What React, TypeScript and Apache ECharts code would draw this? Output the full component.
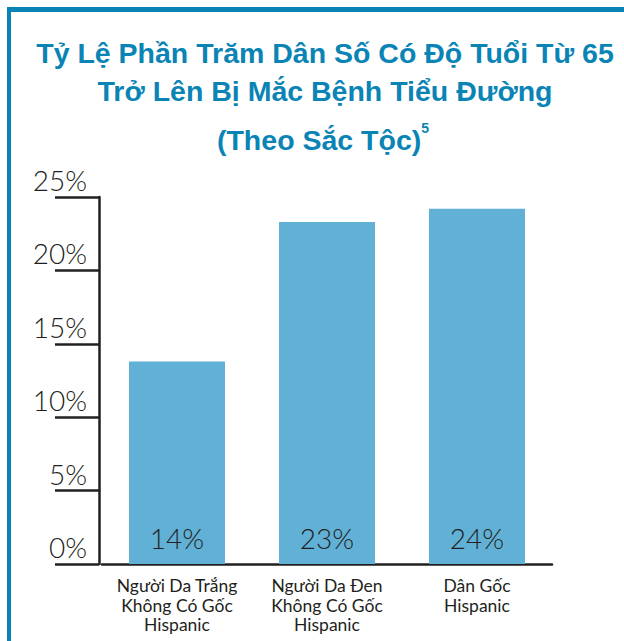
import React, { useEffect, useRef } from "react";
import * as echarts from "echarts";

const titleLines = [
  "Tỷ Lệ Phần Trăm Dân Số Có Độ Tuổi Từ 65",
  "Trở Lên Bị Mắc Bệnh Tiểu Đường",
];
const subtitleText = "(Theo Sắc Tộc)";
const footnoteMark = "5";

const categories = [
  "Người Da Trắng\nKhông Có Gốc\nHispanic",
  "Người Da Đen\nKhông Có Gốc\nHispanic",
  "Dân Gốc\nHispanic",
];
const values = [13.8, 23.3, 24.2];
const valueLabels = ["14%", "23%", "24%"];
const yTicks = [0, 5, 10, 15, 20, 25];

const BLUE = "#0a84b5";
const BAR = "#61b0d6";
const INK = "#231f20";
const THIN = "Lato, 'Open Sans', sans-serif";
const BOLD = "'Liberation Sans', Arial, sans-serif";

export default function App() {
  const ref = useRef<HTMLDivElement>(null);
  useEffect(() => {
    document.body.style.margin = "0";
    const chart = echarts.init(ref.current!, null, { renderer: "svg" });
    chart.setOption({
      animation: false,
      backgroundColor: "#ffffff",
      title: [
        {
          text: titleLines.join("\n"),
          left: 320,
          textAlign: "center",
          top: 29,
          textStyle: {
            color: BLUE,
            fontFamily: BOLD,
            fontWeight: "bold",
            fontSize: 28.5,
            lineHeight: 38,
          },
        },
        {
          text: `{t|${subtitleText}}{s|${footnoteMark}}`,
          left: 318,
          textAlign: "center",
          top: 116,
          textStyle: {
            rich: {
              t: {
                color: BLUE,
                fontFamily: BOLD,
                fontWeight: "bold",
                fontSize: 28.5,
                lineHeight: 38,
              },
              s: {
                color: BLUE,
                fontFamily: BOLD,
                fontWeight: "bold",
                fontSize: 14,
                verticalAlign: "top",
                lineHeight: 38,
                padding: [0, 0, 10, 0],
              },
            },
          },
        },
      ],
      graphic: [
        { type: "rect", shape: { x: 7, y: 7, width: 617, height: 5 }, style: { fill: BLUE } },
        { type: "rect", shape: { x: 7, y: 7, width: 4, height: 634 }, style: { fill: BLUE } },
      ],
      grid: { left: 102, right: 72, top: 197, bottom: 77, containLabel: false },
      xAxis: {
        type: "category",
        data: categories,
        axisLine: { show: true, lineStyle: { color: INK, width: 2.5 } },
        axisTick: { show: false },
        axisLabel: {
          color: INK,
          fontFamily: THIN,
          fontSize: 17.5,
          lineHeight: 19.5,
          letterSpacing: 0.4,
          margin: 12,
          interval: 0,
        },
      },
      yAxis: {
        type: "value",
        min: 0,
        max: 25,
        interval: 5,
        offset: 3,
        axisLine: { show: true, lineStyle: { color: INK, width: 2.5 } },
        axisTick: { show: true, length: 44, lineStyle: { color: INK, width: 2.5 } },
        splitLine: { show: false },
        axisLabel: {
          formatter: (v: number) => (yTicks.includes(v) ? `${v}%` : ""),
          color: INK,
          fontFamily: THIN,
          fontWeight: 300,
          fontSize: 28,
          margin: 12,
          verticalAlign: "bottom",
          padding: [0, 0, 3, 0],
        },
      },
      series: [
        {
          type: "bar",
          data: values,
          barWidth: 96,
          itemStyle: { color: BAR },
          label: {
            show: true,
            position: "insideBottom",
            distance: 12,
            formatter: (p: any) => valueLabels[p.dataIndex],
            color: INK,
            fontFamily: THIN,
            fontWeight: 300,
            fontSize: 28,
          },
        },
      ],
    });
    return () => chart.dispose();
  }, []);
  return <div ref={ref} style={{ width: 624, height: 641 }} />;
}
